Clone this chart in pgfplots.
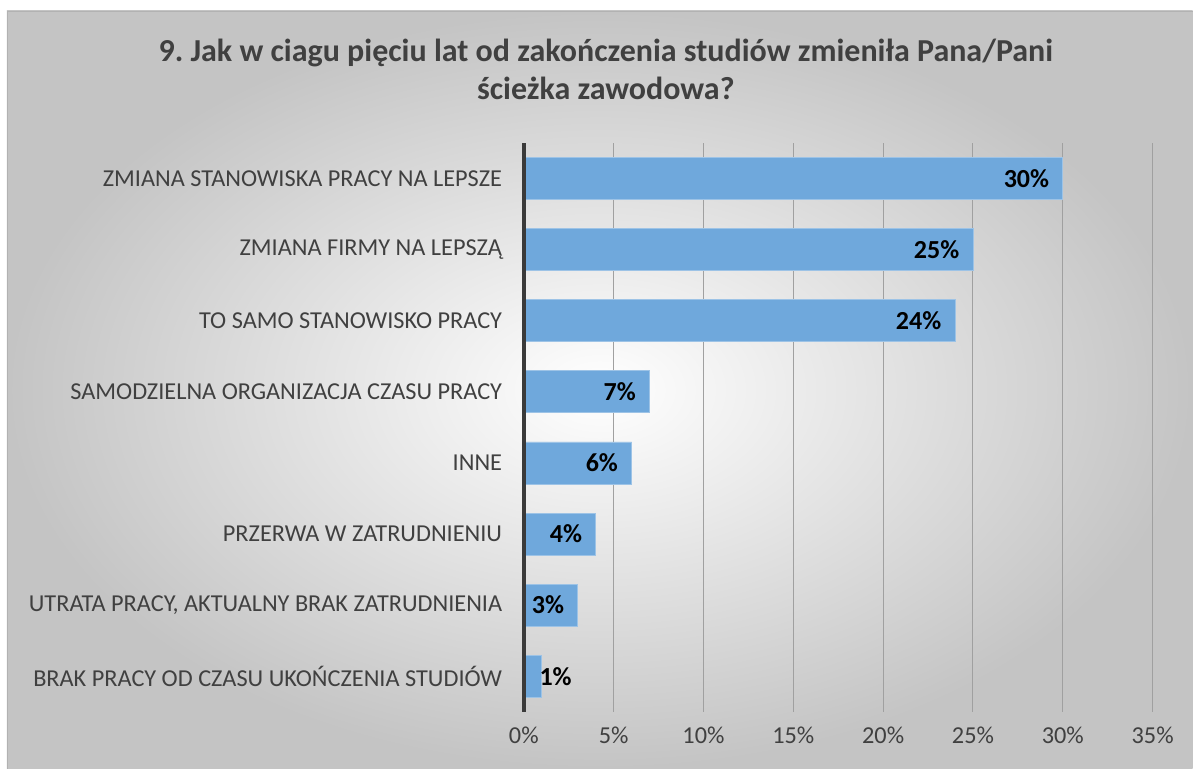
\documentclass[border=0pt]{standalone}
\usepackage{pgfplots}
\pgfplotsset{compat=1.18}
\usepackage{fontspec}
\setmainfont{Carlito}
\definecolor{txt}{HTML}{404040}
\definecolor{barblue}{HTML}{6FA8DC}
\definecolor{baredge}{HTML}{9DC3E6}
\definecolor{gridc}{HTML}{A0A0A0}
\definecolor{axisc}{HTML}{3A3A3A}
\definecolor{bgout}{HTML}{C4C4C4}
\begin{document}
\frenchspacing
\begin{tikzpicture}
% tlo wykresu
\fill[white] (0pt,0pt) rectangle (1193pt,769pt);
\shade[inner color=white, outer color=bgout] (7pt,0pt) rectangle (1193pt,758pt);
\draw[gray!60, line width=0.8pt] (7pt,0pt) -- (7pt,758pt) -- (1193pt,758pt);

% tytul
\node[anchor=base, font=\fontsize{32}{36}\selectfont\bfseries, text=txt] at (606pt,707pt)
  {9. Jak w ciagu pięciu lat od zakończenia studiów zmieniła Pana/Pani};
\node[anchor=base, font=\fontsize{32}{36}\selectfont\bfseries, text=txt] at (606pt,669pt)
  {ścieżka zawodowa?};

\begin{axis}[
    at={(524pt,57pt)}, anchor=south west,
    scale only axis,
    width=629pt, height=569pt,
    xmin=0, xmax=35,
    ymin=-0.5, ymax=7.5,
    xtick={0,5,...,35},
    xticklabel={\pgfmathprintnumber{\tick}\%},
    ytick={0,...,7},
    yticklabels={BRAK PRACY OD CZASU UKOŃCZENIA STUDIÓW,
                 {UTRATA PRACY, AKTUALNY BRAK ZATRUDNIENIA},
                 PRZERWA W ZATRUDNIENIU,
                 INNE,
                 SAMODZIELNA ORGANIZACJA CZASU PRACY,
                 TO SAMO STANOWISKO PRACY,
                 ZMIANA FIRMY NA LEPSZĄ,
                 ZMIANA STANOWISKA PRACY NA LEPSZE\ },
    xmajorgrids,
    grid style={gridc, line width=1pt},
    axis line style={draw=none},
    tick style={draw=none},
    ticklabel style={text=txt, font=\fontsize{24.3}{28}\selectfont},
    /pgf/number format/assume math mode=true,
    xticklabel style={yshift=-12pt},
    yticklabel style={anchor=east, xshift=-14pt},
    xbar, bar width=42pt, bar shift=0pt,
    nodes near coords={\pgfmathprintnumber{\pgfplotspointmeta}\%},
    point meta=x,
    every node near coord/.append style={font=\fontsize{26}{30}\selectfont\bfseries, text=black},
    clip=false,
]
% slupki z etykieta wewnatrz
\addplot[fill=barblue, draw=baredge, line width=0.8pt,
  every node near coord/.append style={anchor=east, xshift=-10pt}]
  coordinates {
    (30,7)
    (25,6)
    (24,5)
    (7,4)
    (6,3)
    (4,2)
    (3,1)
};
% maly slupek z etykieta obok
\addplot[fill=barblue, draw=baredge, line width=0.8pt,
  every node near coord/.append style={anchor=west, xshift=-6pt}]
  coordinates {
    (1,0)
};
\draw[axisc, line width=3.5pt] (axis cs:0,-0.5) -- (axis cs:0,7.5);
\end{axis}
\end{tikzpicture}
\end{document}
